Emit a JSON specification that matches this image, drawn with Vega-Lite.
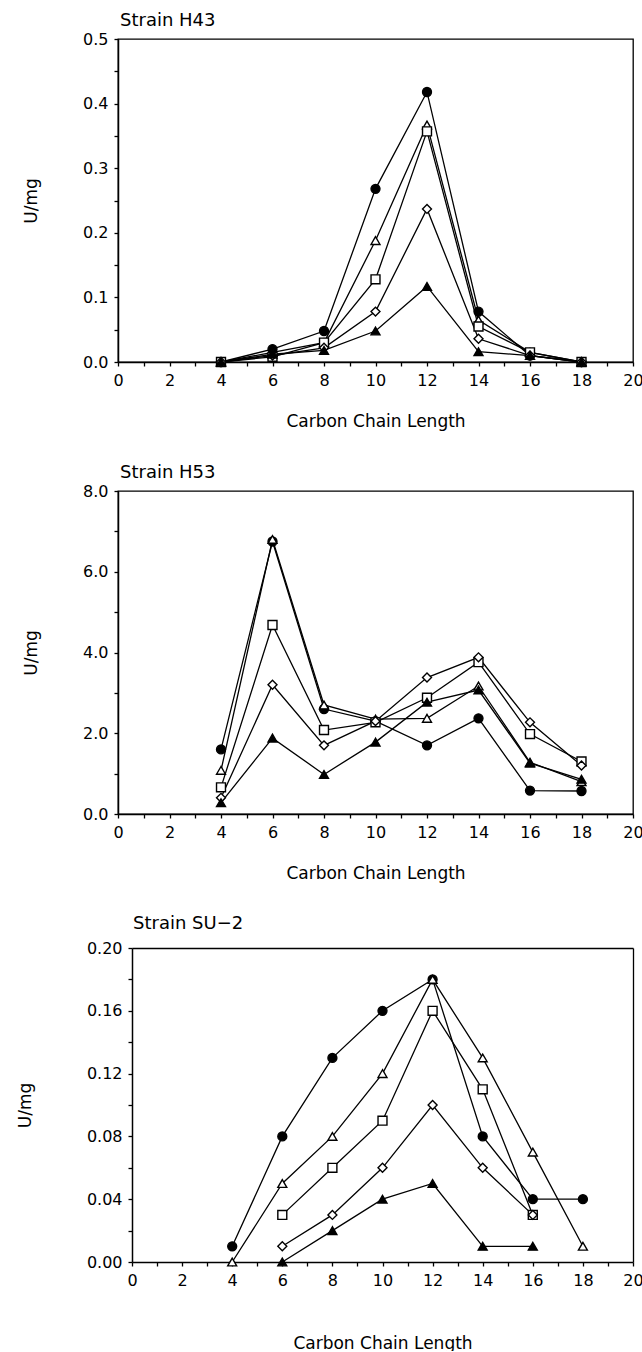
{
  "$schema": "https://vega.github.io/schema/vega-lite/v6.json",
  "background": "white",
  "padding": {"left": 16, "top": 11, "right": 0, "bottom": 0},
  "spacing": 33,
  "datasets": {
    "h43": [
      {"series": "s1", "c": 4, "u": 0}, {"series": "s1", "c": 6, "u": 0.02}, {"series": "s1", "c": 8, "u": 0.048}, {"series": "s1", "c": 10, "u": 0.268}, {"series": "s1", "c": 12, "u": 0.418}, {"series": "s1", "c": 14, "u": 0.078}, {"series": "s1", "c": 16, "u": 0.01}, {"series": "s1", "c": 18, "u": 0},
      {"series": "s2", "c": 4, "u": 0}, {"series": "s2", "c": 6, "u": 0.015}, {"series": "s2", "c": 8, "u": 0.03}, {"series": "s2", "c": 10, "u": 0.188}, {"series": "s2", "c": 12, "u": 0.367}, {"series": "s2", "c": 14, "u": 0.065}, {"series": "s2", "c": 16, "u": 0.015}, {"series": "s2", "c": 18, "u": 0},
      {"series": "s3", "c": 4, "u": 0}, {"series": "s3", "c": 6, "u": 0.008}, {"series": "s3", "c": 8, "u": 0.03}, {"series": "s3", "c": 10, "u": 0.128}, {"series": "s3", "c": 12, "u": 0.357}, {"series": "s3", "c": 14, "u": 0.055}, {"series": "s3", "c": 16, "u": 0.015}, {"series": "s3", "c": 18, "u": 0},
      {"series": "s4", "c": 4, "u": 0}, {"series": "s4", "c": 6, "u": 0.01}, {"series": "s4", "c": 8, "u": 0.022}, {"series": "s4", "c": 10, "u": 0.078}, {"series": "s4", "c": 12, "u": 0.237}, {"series": "s4", "c": 14, "u": 0.036}, {"series": "s4", "c": 16, "u": 0.01}, {"series": "s4", "c": 18, "u": 0},
      {"series": "s5", "c": 4, "u": 0}, {"series": "s5", "c": 6, "u": 0.012}, {"series": "s5", "c": 8, "u": 0.018}, {"series": "s5", "c": 10, "u": 0.048}, {"series": "s5", "c": 12, "u": 0.117}, {"series": "s5", "c": 14, "u": 0.016}, {"series": "s5", "c": 16, "u": 0.01}, {"series": "s5", "c": 18, "u": 0}
    ],
    "h53": [
      {"series": "s1", "c": 4, "u": 1.6}, {"series": "s1", "c": 6, "u": 6.75}, {"series": "s1", "c": 8, "u": 2.6}, {"series": "s1", "c": 10, "u": 2.3}, {"series": "s1", "c": 12, "u": 1.7}, {"series": "s1", "c": 14, "u": 2.37}, {"series": "s1", "c": 16, "u": 0.58}, {"series": "s1", "c": 18, "u": 0.57},
      {"series": "s2", "c": 4, "u": 1.08}, {"series": "s2", "c": 6, "u": 6.8}, {"series": "s2", "c": 8, "u": 2.7}, {"series": "s2", "c": 10, "u": 2.35}, {"series": "s2", "c": 12, "u": 2.37}, {"series": "s2", "c": 14, "u": 3.17}, {"series": "s2", "c": 16, "u": 1.28}, {"series": "s2", "c": 18, "u": 0.8},
      {"series": "s3", "c": 4, "u": 0.66}, {"series": "s3", "c": 6, "u": 4.68}, {"series": "s3", "c": 8, "u": 2.08}, {"series": "s3", "c": 10, "u": 2.27}, {"series": "s3", "c": 12, "u": 2.88}, {"series": "s3", "c": 14, "u": 3.76}, {"series": "s3", "c": 16, "u": 1.98}, {"series": "s3", "c": 18, "u": 1.3},
      {"series": "s4", "c": 4, "u": 0.4}, {"series": "s4", "c": 6, "u": 3.2}, {"series": "s4", "c": 8, "u": 1.7}, {"series": "s4", "c": 10, "u": 2.3}, {"series": "s4", "c": 12, "u": 3.38}, {"series": "s4", "c": 14, "u": 3.88}, {"series": "s4", "c": 16, "u": 2.27}, {"series": "s4", "c": 18, "u": 1.2},
      {"series": "s5", "c": 4, "u": 0.28}, {"series": "s5", "c": 6, "u": 1.88}, {"series": "s5", "c": 8, "u": 0.98}, {"series": "s5", "c": 10, "u": 1.78}, {"series": "s5", "c": 12, "u": 2.77}, {"series": "s5", "c": 14, "u": 3.07}, {"series": "s5", "c": 16, "u": 1.26}, {"series": "s5", "c": 18, "u": 0.86}
    ],
    "su2": [
      {"series": "s1", "c": 4, "u": 0.01}, {"series": "s1", "c": 6, "u": 0.08}, {"series": "s1", "c": 8, "u": 0.13}, {"series": "s1", "c": 10, "u": 0.16}, {"series": "s1", "c": 12, "u": 0.18}, {"series": "s1", "c": 14, "u": 0.08}, {"series": "s1", "c": 16, "u": 0.04}, {"series": "s1", "c": 18, "u": 0.04},
      {"series": "s2", "c": 4, "u": 0}, {"series": "s2", "c": 6, "u": 0.05}, {"series": "s2", "c": 8, "u": 0.08}, {"series": "s2", "c": 10, "u": 0.12}, {"series": "s2", "c": 12, "u": 0.18}, {"series": "s2", "c": 14, "u": 0.13}, {"series": "s2", "c": 16, "u": 0.07}, {"series": "s2", "c": 18, "u": 0.01},
      {"series": "s3", "c": 6, "u": 0.03}, {"series": "s3", "c": 8, "u": 0.06}, {"series": "s3", "c": 10, "u": 0.09}, {"series": "s3", "c": 12, "u": 0.16}, {"series": "s3", "c": 14, "u": 0.11}, {"series": "s3", "c": 16, "u": 0.03},
      {"series": "s4", "c": 6, "u": 0.01}, {"series": "s4", "c": 8, "u": 0.03}, {"series": "s4", "c": 10, "u": 0.06}, {"series": "s4", "c": 12, "u": 0.1}, {"series": "s4", "c": 14, "u": 0.06}, {"series": "s4", "c": 16, "u": 0.03},
      {"series": "s5", "c": 6, "u": 0}, {"series": "s5", "c": 8, "u": 0.02}, {"series": "s5", "c": 10, "u": 0.04}, {"series": "s5", "c": 12, "u": 0.05}, {"series": "s5", "c": 14, "u": 0.01}, {"series": "s5", "c": 16, "u": 0.01}
    ]
  },
  "vconcat": [
    {
      "data": {"name": "h43"},
      "title": {"text": "Strain H43", "frame": "group", "dx": 2},
      "width": 515,
      "height": 323,
      "encoding": {
        "x": {"field": "c", "type": "quantitative", "scale": {"domain": [0, 20], "nice": false, "zero": false},
          "axis": {"title": "Carbon Chain Length", "values": [0,1,2,3,4,5,6,7,8,9,10,11,12,13,14,15,16,17,18,19,20],
            "labelExpr": "datum.value % 2 == 0 ? datum.label : ''", "titlePadding": 25,
            "encode": {"ticks": {"update": {"y": {"signal": "datum.value % 2 == 0 ? -4 : -2.5"}, "y2": {"signal": "datum.value % 2 == 0 ? 4 : 2.5"}}}}}},
        "y": {"field": "u", "type": "quantitative", "scale": {"domain": [0, 0.5], "nice": false},
          "axis": {"title": "U/mg", "values": [0,0.05,0.1,0.15,0.2,0.25,0.3,0.35,0.4,0.45,0.5],
            "labelExpr": "round(datum.value*100) % 10 == 0 ? format(datum.value, '.1f') : ''", "titlePadding": 42,
            "encode": {"ticks": {"update": {"x": {"signal": "round(datum.value*100) % 10 == 0 ? 4 : 2.5"}, "x2": {"signal": "round(datum.value*100) % 10 == 0 ? -4 : -2.5"}}}}}}
      },
      "layer": [
        {"mark": {"type": "line", "color": "black", "strokeWidth": 1.3}, "encoding": {"detail": {"field": "series", "type": "nominal"}}},
        {"mark": {"type": "point", "filled": true, "stroke": "black", "strokeWidth": 1.4, "size": 80, "opacity": 1},
          "encoding": {
            "shape": {"field": "series", "type": "nominal", "scale": {"domain": ["s1","s2","s3","s4","s5"], "range": ["circle","triangle-up","square","diamond","triangle-up"]}, "legend": null},
            "fill": {"field": "series", "type": "nominal", "scale": {"domain": ["s1","s2","s3","s4","s5"], "range": ["black","white","white","white","black"]}, "legend": null}
          }}
      ]
    },
    {
      "data": {"name": "h53"},
      "title": {"text": "Strain H53", "frame": "group", "dx": 2},
      "width": 515,
      "height": 323,
      "encoding": {
        "x": {"field": "c", "type": "quantitative", "scale": {"domain": [0, 20], "nice": false, "zero": false},
          "axis": {"title": "Carbon Chain Length", "values": [0,1,2,3,4,5,6,7,8,9,10,11,12,13,14,15,16,17,18,19,20],
            "labelExpr": "datum.value % 2 == 0 ? datum.label : ''", "titlePadding": 25,
            "encode": {"ticks": {"update": {"y": {"signal": "datum.value % 2 == 0 ? -4 : -2.5"}, "y2": {"signal": "datum.value % 2 == 0 ? 4 : 2.5"}}}}}},
        "y": {"field": "u", "type": "quantitative", "scale": {"domain": [0, 8], "nice": false},
          "axis": {"title": "U/mg", "values": [0,1,2,3,4,5,6,7,8],
            "labelExpr": "datum.value % 2 == 0 ? format(datum.value, '.1f') : ''", "titlePadding": 42,
            "encode": {"ticks": {"update": {"x": {"signal": "datum.value % 2 == 0 ? 4 : 2.5"}, "x2": {"signal": "datum.value % 2 == 0 ? -4 : -2.5"}}}}}}
      },
      "layer": [
        {"mark": {"type": "line", "color": "black", "strokeWidth": 1.3}, "encoding": {"detail": {"field": "series", "type": "nominal"}}},
        {"mark": {"type": "point", "filled": true, "stroke": "black", "strokeWidth": 1.4, "size": 80, "opacity": 1},
          "encoding": {
            "shape": {"field": "series", "type": "nominal", "scale": {"domain": ["s1","s2","s3","s4","s5"], "range": ["circle","triangle-up","square","diamond","triangle-up"]}, "legend": null},
            "fill": {"field": "series", "type": "nominal", "scale": {"domain": ["s1","s2","s3","s4","s5"], "range": ["black","white","white","white","black"]}, "legend": null}
          }}
      ]
    },
    {
      "data": {"name": "su2"},
      "title": {"text": "Strain SU−2", "frame": "group", "dx": 15, "offset": 7},
      "width": 515,
      "height": 314,
      "view": {"stroke": null},
      "layer": [
        {"mark": {"type": "line", "color": "black", "strokeWidth": 1.3},
          "encoding": {
            "x": {"field": "c", "type": "quantitative", "scale": {"domain": [0, 20], "range": [14, 515], "nice": false, "zero": false},
              "axis": {"title": "Carbon Chain Length", "orient": "bottom", "values": [0,1,2,3,4,5,6,7,8,9,10,11,12,13,14,15,16,17,18,19,20],
                "labelExpr": "datum.value % 2 == 0 ? datum.label : ''", "titlePadding": 47,
                "encode": {"ticks": {"update": {"y": {"signal": "datum.value % 2 == 0 ? -4 : -2.5"}, "y2": {"signal": "datum.value % 2 == 0 ? 4 : 2.5"}}}}}},
            "y": {"field": "u", "type": "quantitative", "scale": {"domain": [0, 0.2], "nice": false},
              "axis": {"title": "U/mg", "orient": "left", "offset": -14, "values": [0,0.02,0.04,0.06,0.08,0.1,0.12,0.14,0.16,0.18,0.2],
                "labelExpr": "round(datum.value*100) % 4 == 0 ? format(datum.value, '.2f') : ''", "titlePadding": 52,
                "encode": {"ticks": {"update": {"x": {"signal": "round(datum.value*100) % 4 == 0 ? 4 : 2.5"}, "x2": {"signal": "round(datum.value*100) % 4 == 0 ? -4 : -2.5"}}}}}},
            "detail": {"field": "series", "type": "nominal"}
          }},
        {"mark": {"type": "point", "filled": true, "stroke": "black", "strokeWidth": 1.4, "size": 80, "opacity": 1},
          "encoding": {
            "x": {"field": "c", "type": "quantitative", "axis": null},
            "y": {"field": "u", "type": "quantitative", "axis": null},
            "shape": {"field": "series", "type": "nominal", "scale": {"domain": ["s1","s2","s3","s4","s5"], "range": ["circle","triangle-up","square","diamond","triangle-up"]}, "legend": null},
            "fill": {"field": "series", "type": "nominal", "scale": {"domain": ["s1","s2","s3","s4","s5"], "range": ["black","white","white","white","black"]}, "legend": null}
          }},
        {"mark": {"type": "point", "opacity": 0},
          "encoding": {
            "x": {"field": "c", "type": "quantitative", "axis": {"orient": "top", "labels": false, "ticks": false, "title": null, "domainWidth": 1.3}},
            "y": {"field": "u", "type": "quantitative", "axis": {"orient": "right", "labels": false, "ticks": false, "title": null, "domainWidth": 1.3}}
          }}
      ],
      "resolve": {"axis": {"x": "independent", "y": "independent"}}
    }
  ],
  "resolve": {"scale": {"x": "independent", "y": "independent"}, "axis": {"x": "independent", "y": "independent"}},
  "config": {
    "font": "DejaVu Sans",
    "view": {"stroke": "black", "strokeWidth": 1.3},
    "axis": {"grid": false, "domainColor": "black", "domainWidth": 1.5, "tickColor": "black", "tickWidth": 1.3, "tickSize": 4,
      "labelColor": "black", "titleColor": "black", "labelFontSize": 16, "titleFontSize": 17, "titleFontWeight": "normal",
      "labelPadding": 6, "labelFlush": false, "labelOverlap": false},
    "title": {"fontSize": 18, "fontWeight": "normal", "anchor": "start", "color": "black", "offset": 1}
  }
}
